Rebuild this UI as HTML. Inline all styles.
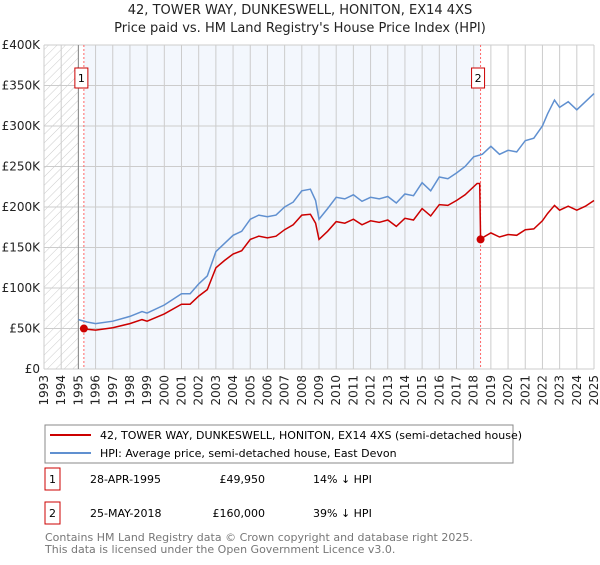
<!DOCTYPE html>
<html><head><meta charset="utf-8"><style>
body{margin:0;background:#fff;font-family:"Liberation Sans","DejaVu Sans",sans-serif;}
svg text{font-family:"DejaVu Sans","Liberation Sans",sans-serif;}
</style></head><body>
<svg id="c" width="600" height="560" xmlns="http://www.w3.org/2000/svg">
<defs><pattern id="hatch" width="6" height="6" patternUnits="userSpaceOnUse" patternTransform="rotate(45)"><line x1="0" y1="0" x2="0" y2="6" stroke="#ccc" stroke-width="1"/></pattern></defs>
<text x="300" y="14" font-size="13" text-anchor="middle" fill="#222">42, TOWER WAY, DUNKESWELL, HONITON, EX14 4XS</text>
<text x="300" y="32" font-size="13" text-anchor="middle" fill="#222">Price paid vs. HM Land Registry's House Price Index (HPI)</text>
<g id="plot"></g>
<rect x="45" y="425" width="468" height="38" fill="#fff" stroke="#888"/>
<line x1="50" y1="435" x2="91" y2="435" stroke="#cc0000" stroke-width="2"/>
<text x="100" y="439" font-size="11">42, TOWER WAY, DUNKESWELL, HONITON, EX14 4XS (semi-detached house)</text>
<line x1="50" y1="453" x2="91" y2="453" stroke="#6090d0" stroke-width="2"/>
<text x="100" y="457" font-size="11">HPI: Average price, semi-detached house, East Devon</text>
<g font-size="11">
<rect x="45" y="468" width="15" height="22" fill="#fff" stroke="#cc0000"/><text x="52.5" y="483" text-anchor="middle">1</text>
<text x="90" y="483">28-APR-1995</text><text x="265" y="483" text-anchor="end">£49,950</text><text x="313" y="483">14% ↓ HPI</text>
<rect x="45" y="502" width="15" height="22" fill="#fff" stroke="#cc0000"/><text x="52.5" y="517" text-anchor="middle">2</text>
<text x="90" y="517">25-MAY-2018</text><text x="265" y="517" text-anchor="end">£160,000</text><text x="313" y="517">39% ↓ HPI</text>
</g>
<text x="45" y="541" font-size="11" fill="#777">Contains HM Land Registry data © Crown copyright and database right 2025.</text>
<text x="45" y="553" font-size="11" fill="#777">This data is licensed under the Open Government Licence v3.0.</text>
</svg>
<script>
const hpiYears=[1995.0,1995.5,1996,1997,1998,1998.7,1999,2000,2001,2001.5,2002,2002.5,2003,2003.5,2004,2004.5,2005,2005.5,2006,2006.5,2007,2007.5,2008,2008.5,2008.8,2009.0,2009.5,2010,2010.5,2011,2011.5,2012,2012.5,2013,2013.5,2014,2014.5,2015,2015.5,2016,2016.5,2017,2017.5,2018,2018.5,2019,2019.5,2020,2020.5,2021,2021.5,2022,2022.3,2022.7,2023,2023.5,2024,2024.5,2025];
const hpiValues=[61,58,56,59,65,71,69,79,93,93,105,115,145,155,165,170,185,190,188,190,200,206,220,222,208,185,198,212,210,215,207,212,210,213,205,216,214,230,220,237,235,242,250,262,265,275,265,270,268,282,285,300,315,332,323,330,320,330,340];
const priceYears=[1995.32,1995.5,1996,1997,1998,1998.7,1999,2000,2001,2001.5,2002,2002.5,2003,2003.5,2004,2004.5,2005,2005.5,2006,2006.5,2007,2007.5,2008,2008.5,2008.8,2009.0,2009.5,2010,2010.5,2011,2011.5,2012,2012.5,2013,2013.5,2014,2014.5,2015,2015.5,2016,2016.5,2017,2017.5,2018.2,2018.35,2018.4,2018.5,2019,2019.5,2020,2020.5,2021,2021.5,2022,2022.3,2022.7,2023,2023.5,2024,2024.5,2025];
const priceValues=[50,49,48,51,56,61,59,68,80,80,90,98,125,134,142,146,160,164,162,164,172,178,190,191,180,160,170,182,180,185,178,183,181,184,176,186,184,198,189,203,202,208,215,229,229,160,162,168,163,166,165,172,173,183,192,202,196,201,196,201,208];
const saleYears=[1995.32,2018.4];
const saleValues=[49.95,160];
const saleLabels=["1","2"];
const yTicks=[0,50,100,150,200,250,300,350,400];
const yTickLabels=["£0","£50K","£100K","£150K","£200K","£250K","£300K","£350K","£400K"];
const xTicks=[1993,1994,1995,1996,1997,1998,1999,2000,2001,2002,2003,2004,2005,2006,2007,2008,2009,2010,2011,2012,2013,2014,2015,2016,2017,2018,2019,2020,2021,2022,2023,2024,2025];

const L=44,R=594,T=45,B=369;
const x=v=>L+(v-1993)/(2025-1993)*(R-L);
const y=v=>B-v/400*(B-T);
const NS="http://www.w3.org/2000/svg";
const g=document.getElementById('plot');
function mk(t,a){const e=document.createElementNS(NS,t);for(const k in a)e.setAttribute(k,a[k]);g.appendChild(e);return e;}
let e;
e=mk('rect',{x:L,y:T,width:R-L,height:B-T,fill:'#fff'});


e=mk('rect',{x:x(1995.32),y:T,width:x(2018.4)-x(1995.32),height:B-T,fill:'#eef3fc',opacity:0.7});


e=mk('rect',{x:L,y:T,width:x(1995)-L,height:B-T,fill:'url(#hatch)'});


xTicks.forEach(v=>{
 e=mk('line',{x1:x(v),x2:x(v),y1:T,y2:B,stroke:'#ccc','stroke-width':1});
 
 
 e=mk('text',{x:0,y:0,'font-size':12,'text-anchor':'end',transform:`translate(${x(v)+4},${B+6}) rotate(-90)`,fill:'#222'});
 e.textContent=v;
 
 
});
yTicks.forEach((v,i)=>{
 e=mk('line',{x1:L,x2:R,y1:y(v),y2:y(v),stroke:'#ccc','stroke-width':1});
 
 
 e=mk('text',{x:L-4,y:y(v)+4,'font-size':12,'text-anchor':'end',fill:'#222'});
 e.textContent=yTickLabels[i];
 
 
});
e=mk('line',{x1:x(1995),x2:x(1995),y1:T,y2:B,stroke:'#888','stroke-width':1});


saleYears.forEach((v,i)=>{
 e=mk('line',{x1:x(v),x2:x(v),y1:T,y2:B,stroke:'#ff6666','stroke-width':1,'stroke-dasharray':'2,2'});
 
 
 e=mk('rect',{x:x(v)-9,y:68,width:13,height:20,fill:'#fff',stroke:'#cc0000'});
 
 
 e=mk('text',{x:x(v)-2.5,y:82,'font-size':11,'text-anchor':'middle'});
 e.textContent=saleLabels[i];
 
 
});
const pts=(xs,vs)=>xs.map((a,i)=>x(a).toFixed(1)+','+y(vs[i]).toFixed(1)).join(' ');
e=mk('polyline',{points:pts(hpiYears,hpiValues),fill:'none',stroke:'#6090d0','stroke-width':1.5});


e=mk('polyline',{points:pts(priceYears,priceValues),fill:'none',stroke:'#cc0000','stroke-width':1.5});


saleYears.forEach((v,i)=>{
 e=mk('circle',{cx:x(v),cy:y(saleValues[i]),r:4,fill:'#cc0000'});
 
 
});
</script>
</body></html>
